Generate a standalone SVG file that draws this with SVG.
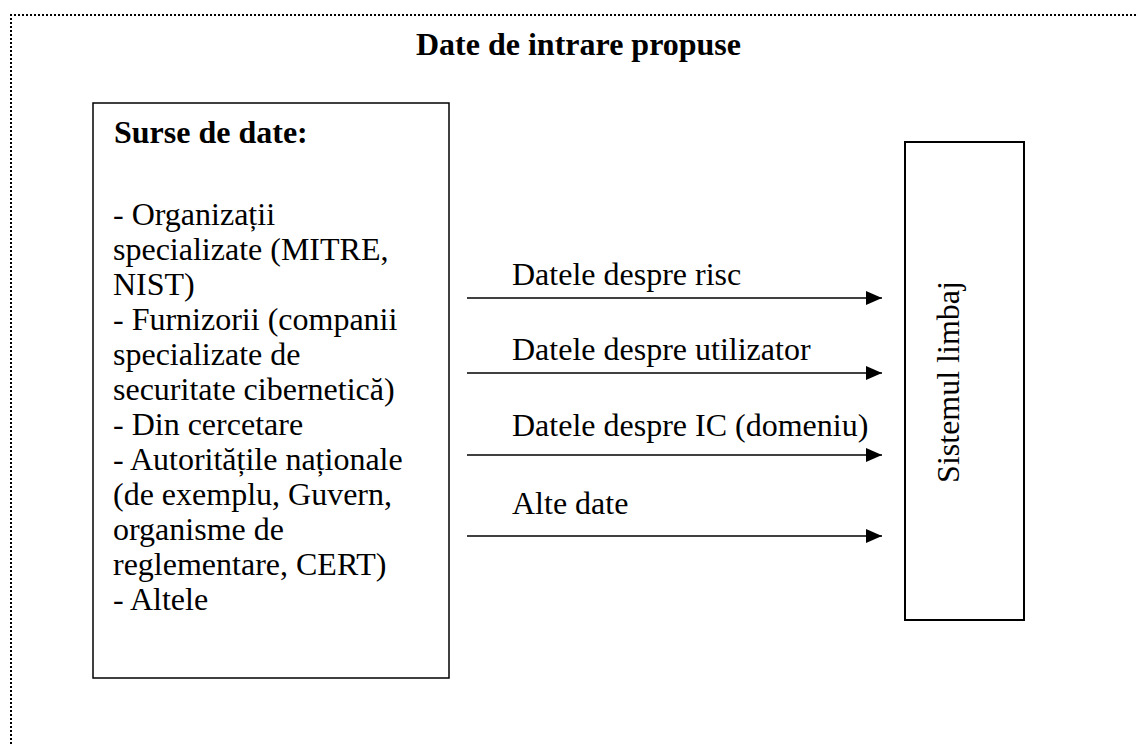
<svg xmlns="http://www.w3.org/2000/svg" width="1138" height="744" viewBox="0 0 1138 744">
<defs>
<style>
text{font-family:"Liberation Serif","Times New Roman",serif;font-size:32px;fill:#000}
.b{font-weight:bold}
.box{fill:#fff;stroke:#000}
.conn line{stroke:#000;stroke-width:1.5}
.frame{fill:none;stroke:#000;stroke-width:2;stroke-dasharray:2 2}
</style>
<marker id="ah" viewBox="0 0 16 14" refX="16" refY="7" markerWidth="16" markerHeight="14" markerUnits="userSpaceOnUse" orient="auto">
<path d="M0,0 L16,7 L0,14 Z" fill="#000"/>
</marker>
</defs>
<rect width="1138" height="744" fill="#fff"/>
<path class="frame" d="M11,760 L11,15 L1150,15"/>
<text class="b" x="578.5" y="55" text-anchor="middle">Date de intrare propuse</text>
<g id="sources">
<rect class="box" x="93" y="103" width="356" height="575" stroke-width="1.5"/>
<text class="b" x="114" y="143">Surse de date:</text>
<text x="113" y="225">- Organizații</text>
<text x="113" y="260">specializate (MITRE,</text>
<text x="113" y="295">NIST)</text>
<text x="113" y="330">- Furnizorii (companii</text>
<text x="113" y="365">specializate de</text>
<text x="113" y="400">securitate cibernetică)</text>
<text x="113" y="435">- Din cercetare</text>
<text x="113" y="470">- Autoritățile naționale</text>
<text x="113" y="505">(de exemplu, Guvern,</text>
<text x="113" y="540">organisme de</text>
<text x="113" y="575">reglementare, CERT)</text>
<text x="113" y="610">- Altele</text>
</g>
<g id="language-system">
<rect class="box" x="905" y="142" width="119" height="478" stroke-width="2"/>
<text transform="translate(959,382) rotate(-90)" text-anchor="middle">Sistemul limbaj</text>
</g>
<g class="conn" id="connectors">
<line x1="467" y1="298" x2="882" y2="298" marker-end="url(#ah)"/>
<line x1="467" y1="373" x2="882" y2="373" marker-end="url(#ah)"/>
<line x1="467" y1="455" x2="882" y2="455" marker-end="url(#ah)"/>
<line x1="467" y1="536" x2="882" y2="536" marker-end="url(#ah)"/>
<text x="512" y="285">Datele despre risc</text>
<text x="512" y="360">Datele despre utilizator</text>
<text x="512" y="436">Datele despre IC (domeniu)</text>
<text x="512" y="514">Alte date</text>
</g>
</svg>
